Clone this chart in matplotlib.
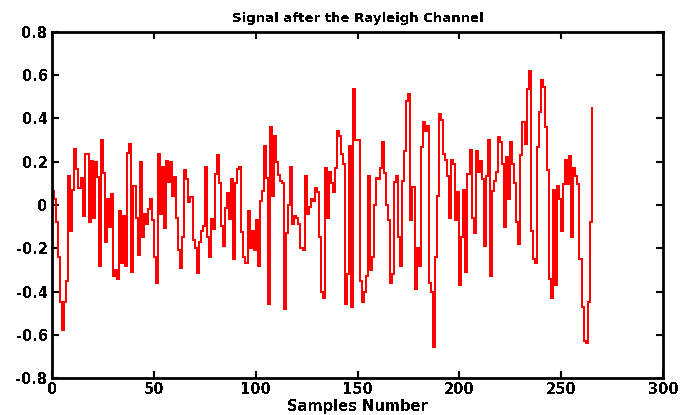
import matplotlib
matplotlib.use('Agg')
import matplotlib.pyplot as plt
import matplotlib.ticker as ticker
import numpy as np

plt.rcParams['font.family'] = ['DejaVu Sans']
plt.rcParams['font.weight'] = 'bold'
plt.rcParams['axes.unicode_minus'] = False
plt.rcParams['text.antialiased'] = False

# received samples after the Rayleigh fading channel
rx_part1 = [0.065, 0.026, -0.08, -0.24, -0.45, -0.58, -0.45, -0.35, 0.135, -0.12,
            0.07, 0.26, 0.165, 0.08, 0.127, -0.05, 0.235, 0.235, -0.08, 0.205,
            -0.06, 0.197, 0.13, -0.28, 0.3, 0.15, -0.17, 0.03, -0.1, 0.05,
            -0.33, -0.3, -0.34, -0.03, -0.27, -0.05, -0.28, 0.24, 0.28, -0.31,
            0.09, -0.06, -0.23, 0.2]
rx_part2 = [-0.15, -0.04, -0.09, -0.02, 0.026, -0.07, -0.24, -0.36, 0.236, -0.043,
            0.174, -0.105, 0.205, 0.107, 0.197, 0.04, 0.13, -0.06, -0.21, -0.29,
            -0.15, 0.163, 0.12, 0.014, 0.037, -0.16, -0.2, -0.315, -0.17, -0.12,
            -0.095, 0.177, -0.15, -0.24, -0.067, -0.113, 0.143, 0.233, 0.104, -0.095,
            -0.19, -0.012, 0.057, -0.066, 0.12, -0.25, 0.104, 0.166, 0.177, -0.125]
rx_part3 = [-0.24, -0.27, -0.03, -0.2, -0.12, -0.21, -0.07, -0.28, 0.02, 0.065,
            0.274, 0.127, -0.46, 0.36, 0.04, 0.32, 0.2, 0.14, 0.11, 0.1,
            -0.48, -0.13, 0.0, 0.177, -0.087, -0.05, -0.06, -0.09, -0.2, -0.21,
            0.135, -0.04, -0.01, 0.026, 0.02, 0.08, 0.06, -0.15, -0.4, -0.43,
            0.17, -0.06, 0.153, 0.104, 0.06, 0.17]
rx_part4 = [0.34, 0.32, 0.235, 0.19, -0.46, -0.32, 0.274, -0.47, 0.535, 0.3,
            0.3, -0.35, -0.45, -0.4, -0.33, 0.132, -0.3, -0.24, 0.0, 0.127,
            0.12, 0.17, 0.29, 0.15, 0.0, -0.07, -0.36, -0.32, 0.107, 0.135,
            -0.15, -0.28, 0.11, 0.25, 0.48, 0.515, -0.07, 0.084, -0.39, -0.2,
            -0.28, 0.27, 0.386, 0.34, 0.367, -0.36, -0.4]
rx_part5 = [-0.655, -0.24, 0.04, 0.42, 0.395, 0.235, 0.21, 0.135, -0.06, 0.21,
            0.19, -0.07, 0.06, -0.37, -0.15, 0.07, -0.31, 0.143, 0.256, -0.06,
            -0.13, 0.25, 0.153, 0.205, 0.12, -0.19, 0.135, 0.3, -0.33, 0.065,
            0.11, 0.153, 0.316, 0.29, 0.19, -0.1, 0.22, 0.03, 0.29, 0.19,
            0.1, -0.08, -0.18, 0.23]
rx_part6 = [0.386, 0.28, 0.535, 0.62, -0.12, -0.25, -0.27, 0.27, 0.43, 0.577,
            0.545, 0.36, 0.163, -0.34, -0.43, 0.07, -0.37, 0.09, 0.026, -0.12,
            0.096, 0.21, 0.096, 0.228, -0.15, 0.17, 0.135, 0.096, -0.25, -0.47,
            -0.63, -0.64, -0.45, -0.08, 0.45]

signal = np.array(rx_part1 + rx_part2 + rx_part3 + rx_part4 + rx_part5 + rx_part6)
n = np.arange(len(signal))

x_ticks = [0, 50, 100, 150, 200, 250, 300]
y_ticks = [-0.8, -0.6, -0.4, -0.2, 0, 0.2, 0.4, 0.6, 0.8]

fig = plt.figure(figsize=(6.84, 4.15), dpi=100)
ax = fig.add_axes([52 / 684, 1 - 378 / 415, 611 / 684, 346 / 415])

ax.step(n, signal, where='post', color='red', linewidth=1.3, antialiased=False)

ax.set_xlim(0, 300)
ax.set_ylim(-0.8, 0.8)
ax.xaxis.set_major_locator(ticker.FixedLocator(x_ticks))
ax.yaxis.set_major_locator(ticker.FixedLocator(y_ticks))
ax.yaxis.set_major_formatter(ticker.FuncFormatter(lambda v, p: '0' if abs(v) < 1e-9 else f'{v:.1f}'))

ax.tick_params(direction='in', length=5, width=1.5, top=True, right=True,
               labelsize=10.5, pad=3)
for lbl in ax.get_xticklabels() + ax.get_yticklabels():
    lbl.set_fontweight('bold')
for sp in ax.spines.values():
    sp.set_linewidth(2)

ax.set_title('Signal after the Rayleigh Channel', fontsize=9.5, fontweight='bold', pad=7)
ax.set_xlabel('Samples Number', fontsize=10.5, fontweight='bold', labelpad=1)

fig.savefig('out.png', dpi=100)
